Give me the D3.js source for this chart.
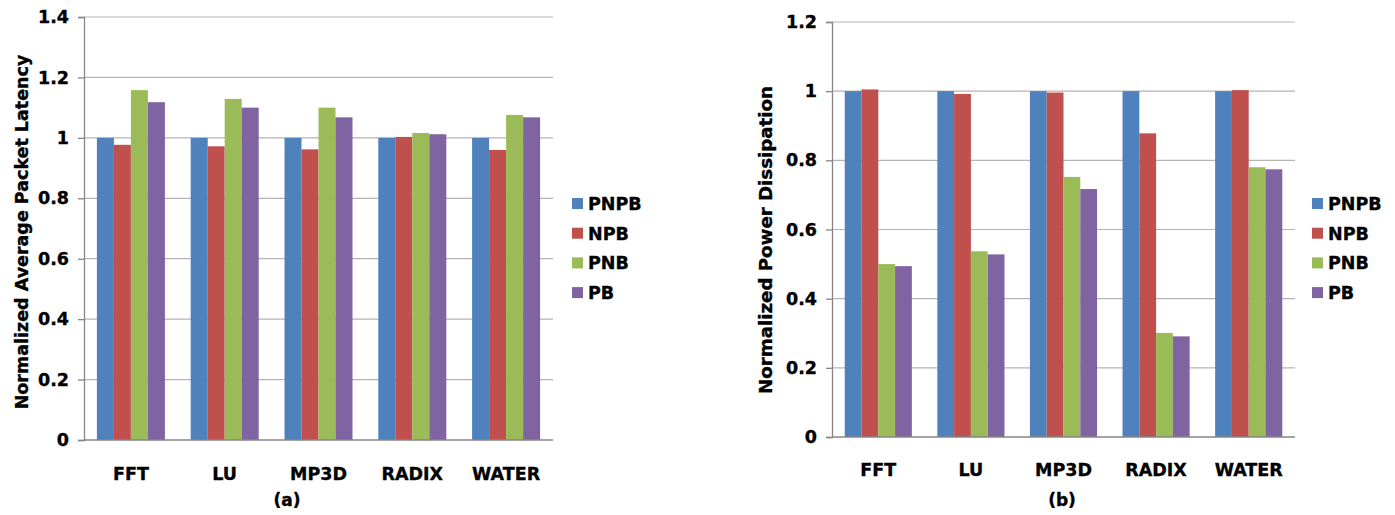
<!DOCTYPE html>
<html>
<head>
<meta charset="utf-8">
<script src="https://cdn.jsdelivr.net/npm/d3@7"></script>
<style>
  body { margin: 0; background: #fff; }
  svg { display: block; font-family: "DejaVu Sans", Verdana, sans-serif; font-weight: bold; }
  svg text { stroke: #000; stroke-width: 0.35px; }
</style>
</head>
<body>
<svg id="chart" width="1395" height="515"></svg>
<script>
// benchmarks and bar series
const categories = ["FFT", "LU", "MP3D", "RADIX", "WATER"];
const seriesNames = ["PNPB", "NPB", "PNB", "PB"];
const seriesColors = ["#4f81bd", "#c0504d", "#9bbb59", "#8064a2"];

// (a) normalized average packet latency
const latencyPNPB = [1.0, 1.0, 1.0, 1.0, 1.0];
const latencyNPB  = [0.977, 0.972, 0.962, 1.003, 0.960];
const latencyPNB  = [1.158, 1.129, 1.100, 1.016, 1.076];
const latencyPB   = [1.118, 1.100, 1.068, 1.012, 1.068];
const latencyTicks = [0, 0.2, 0.4, 0.6, 0.8, 1, 1.2, 1.4];

// (b) normalized power dissipation
const powerPNPB = [1.0, 1.0, 1.0, 1.0, 1.0];
const powerNPB  = [1.005, 0.992, 0.996, 0.878, 1.003];
const powerPNB  = [0.500, 0.537, 0.752, 0.301, 0.780];
const powerPB   = [0.494, 0.528, 0.717, 0.291, 0.774];
const powerTicks = [0, 0.2, 0.4, 0.6, 0.8, 1, 1.2];

const svg = d3.select("#chart");

function drawChart(opts) {
  const { left, right, top, bottom, series, ticks, yLabel, yLabelX, yLabelY, yLabelSize,
          catY, caption, captionX, legendX } = opts;

  const g = svg.append("g");

  const y = d3.scaleLinear()
    .domain([0, ticks[ticks.length - 1]])
    .range([bottom, top]);

  const x = d3.scaleBand()
    .domain(categories)
    .range([left, right])
    .paddingInner(0.275)
    .paddingOuter(0.1375);

  const xs = d3.scaleBand()
    .domain(seriesNames)
    .range([0, x.bandwidth()]);

  // gridlines
  g.append("g")
    .selectAll("line")
    .data(ticks.filter(t => t > 0))
    .join("line")
    .attr("x1", left).attr("x2", right)
    .attr("y1", d => y(d)).attr("y2", d => y(d))
    .attr("stroke", "#b4b4b4")
    .attr("stroke-width", 1.2);

  // bars
  const rows = categories.map((c, i) => ({
    cat: c,
    vals: seriesNames.map((s, j) => ({ name: s, v: series[j][i], color: seriesColors[j] }))
  }));

  g.append("g")
    .selectAll("g")
    .data(rows)
    .join("g")
    .attr("transform", d => `translate(${x(d.cat)},0)`)
    .selectAll("rect")
    .data(d => d.vals)
    .join("rect")
    .attr("x", d => xs(d.name))
    .attr("width", xs.bandwidth())
    .attr("y", d => y(d.v))
    .attr("height", d => bottom - y(d.v))
    .attr("fill", d => d.color);

  // y axis
  const yAxis = g.append("g")
    .attr("transform", `translate(${left},0)`)
    .call(d3.axisLeft(y).tickValues(ticks).tickSize(6).tickPadding(9).tickFormat(d => String(d)));
  yAxis.select(".domain").attr("stroke", "#868686").attr("stroke-width", 1.3);
  yAxis.selectAll(".tick line").attr("stroke", "#868686").attr("stroke-width", 1.3);
  yAxis.selectAll(".tick text")
    .attr("fill", "#000")
    .style("font-size", "17.5px")
    .style("font-family", "'DejaVu Sans', sans-serif")
    .style("font-weight", "bold");

  // category axis
  g.append("line")
    .attr("x1", left).attr("x2", right)
    .attr("y1", bottom).attr("y2", bottom)
    .attr("stroke", "#868686").attr("stroke-width", 1.5);

  g.append("g")
    .selectAll("text")
    .data(categories)
    .join("text")
    .attr("x", d => x(d) + x.bandwidth() / 2)
    .attr("y", catY)
    .attr("text-anchor", "middle")
    .style("font-size", "17.5px")
    .text(d => d);

  // y axis title
  g.append("text")
    .attr("transform", `translate(${yLabelX},${yLabelY}) rotate(-90)`)
    .attr("text-anchor", "middle")
    .style("font-size", yLabelSize + "px")
    .text(yLabel);

  // caption
  g.append("text")
    .attr("x", captionX)
    .attr("y", 506)
    .attr("text-anchor", "middle")
    .style("font-size", "17px")
    .text(caption);

  // legend
  const leg = g.append("g")
    .selectAll("g")
    .data(seriesNames)
    .join("g")
    .attr("transform", (d, i) => `translate(${legendX},${203 + i * 29.7})`);
  leg.append("rect")
    .attr("x", 0).attr("y", -5)
    .attr("width", 11).attr("height", 11)
    .attr("fill", (d, i) => seriesColors[i]);
  leg.append("text")
    .attr("x", 16).attr("y", 7)
    .style("font-size", "17.5px")
    .text(d => d);
}

drawChart({
  left: 84, right: 553, top: 17, bottom: 440,
  series: [latencyPNPB, latencyNPB, latencyPNB, latencyPB],
  ticks: latencyTicks,
  yLabel: "Normalized Average Packet Latency",
  yLabelX: 28, yLabelY: 232, yLabelSize: 17.5,
  catY: 480, caption: "(a)", captionX: 287, legendX: 572
});

drawChart({
  left: 832, right: 1295, top: 22, bottom: 437,
  series: [powerPNPB, powerNPB, powerPNB, powerPB],
  ticks: powerTicks,
  yLabel: "Normalized Power Dissipation",
  yLabelX: 772, yLabelY: 240, yLabelSize: 18.2,
  catY: 476, caption: "(b)", captionX: 1062, legendX: 1312
});
</script>
</body>
</html>
